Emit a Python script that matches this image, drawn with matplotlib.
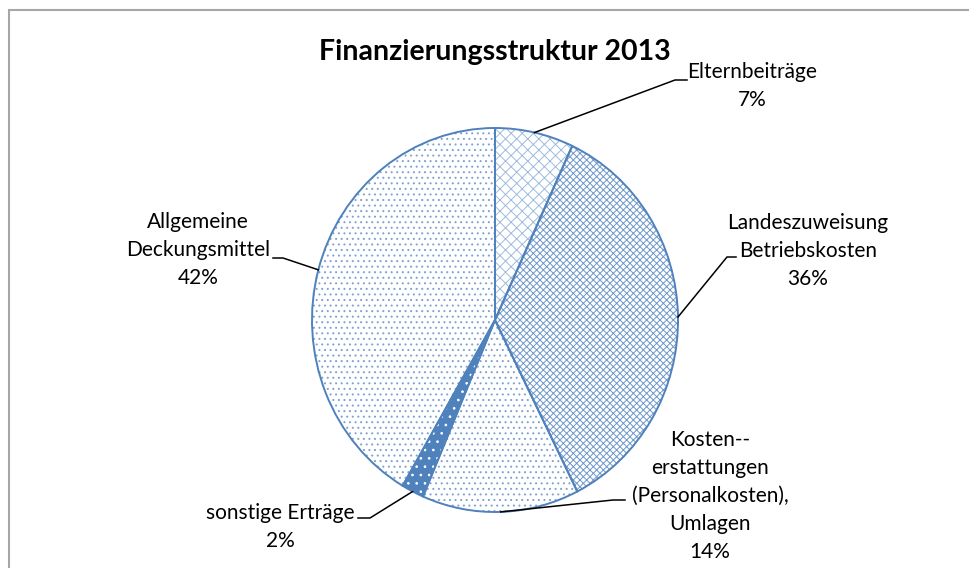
import numpy as np
import matplotlib
matplotlib.use("Agg")
import matplotlib.pyplot as plt
from matplotlib.lines import Line2D
from matplotlib.patches import Rectangle

plt.rcParams['font.family'] = ['Lato', 'DejaVu Sans']
plt.rcParams['hatch.linewidth'] = 0.7

# Finanzierungsstruktur 2013 (Anteile in %)
kategorien = ["Elternbeiträge",
              "Landeszuweisung\nBetriebskosten",
              "Kosten--\nerstattungen\n(Personalkosten),\nUmlagen",
              "sonstige Erträge",
              "Allgemeine\nDeckungsmittel"]
anteile = [7, 36, 14, 2, 42]

BLAU = '#4f81bd'
muster = ['xxx', 'xxxxx', '...', '..', '...']
flaechen = ['white', 'white', 'white', BLAU, 'white']
musterfarbe = ['#9fbbdc', '#6f97c9', '#7fa2cf', 'white', '#7fa2cf']

W, H = 970, 568
fig = plt.figure(figsize=(W / 100, H / 100), dpi=100)

# Achse um den Kreismittelpunkt (Pixel: 495/320, Radien 183/192)
cx, cy, rx, ry = 495, 320, 183, 192
ax = fig.add_axes([(cx - rx) / W, (H - cy - ry) / H, 2 * rx / W, 2 * ry / H])

wedges, _ = ax.pie(anteile, startangle=90, counterclock=False, radius=1,
                   wedgeprops=dict(linewidth=0))
for w, h, fc, hc in zip(wedges, muster, flaechen, musterfarbe):
    w.set_facecolor(fc)
    w.set_edgecolor(hc)
    w.set_hatch(h)

# Umrisse separat, damit die Musterfarbe unabhängig bleibt
umriss, _ = ax.pie(anteile, startangle=90, counterclock=False, radius=1,
                   wedgeprops=dict(fill=False, edgecolor=BLAU, linewidth=1.4))
ax.set_aspect('auto')
ax.set_xlim(-1, 1)
ax.set_ylim(-1, 1)

fig.text(495 / W, 1 - 52 / H, "Finanzierungsstruktur 2013", ha='center', va='center',
         fontsize=20.5, fontweight='bold')

# Beschriftungen: Textmitte, Knick und Ende der Führungslinie (Pixel von oben links)
text_pos = [(752, 86), (808, 251), (710, 496), (280, 527), (198, 250)]
knick = [(675, 80), (727, 257), (613, 500), (370, 518), (283, 258)]
ende = [(687, 80), (736, 257), (625, 500), (358, 518), (273, 258)]

to_fig = fig.transFigure.inverted()
for w, name, wert, tp, kn, en in zip(wedges, kategorien, anteile, text_pos, knick, ende):
    mitte = np.deg2rad((w.theta1 + w.theta2) / 2)
    px, py = ax.transData.transform((np.cos(mitte), np.sin(mitte)))
    start = to_fig.transform((px, py))
    pts = [start, (kn[0] / W, 1 - kn[1] / H), (en[0] / W, 1 - en[1] / H)]
    fig.add_artist(Line2D([p[0] for p in pts], [p[1] for p in pts],
                          transform=fig.transFigure, color='black', linewidth=1.1))
    fig.text(tp[0] / W, 1 - tp[1] / H, f"{name}\n{wert}%", ha='center', va='center',
             fontsize=15, linespacing=1.5)

# Diagrammrahmen
fig.add_artist(Rectangle((9 / W, -0.1), 1.2, 1 - 10 / H + 0.1, transform=fig.transFigure,
                         fill=False, edgecolor='#a6a6a6', linewidth=1.5))

fig.savefig("out.png", dpi=100)
